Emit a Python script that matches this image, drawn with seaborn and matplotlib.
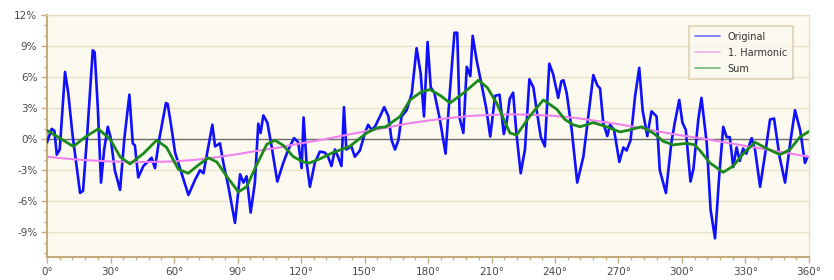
import numpy as np
import pandas as pd
import matplotlib
matplotlib.use("Agg")
import matplotlib.pyplot as plt
import seaborn as sns
from matplotlib.ticker import MultipleLocator, FuncFormatter

# Original signal (degrees, percent)
orig_deg = [0, 2.2, 3.5, 4.6, 6, 8.5, 10, 12, 15.6, 17, 19, 21.6, 22.5, 24, 25.5, 27, 28.7, 30, 32, 34.5,
            36.5, 38.9, 40.5, 41.5, 43.1, 45.5, 47, 49.4, 51, 53, 56.2, 57, 58.5, 60.5, 63.6, 66.8, 70, 72.3,
            73.9, 76.2, 78.1, 79.4, 81.7, 83.3, 85.7, 88.8, 91.2, 92.8, 94.3, 96.2, 98.2, 99.8, 100.9, 102.2,
            104.1, 106.1, 108.8, 111.6, 114, 116.7, 118.7, 120.3, 121.2, 122.6, 124.2, 126.5, 128.9, 131.3,
            132.8, 134.4, 136, 137.5, 139.1, 140.3, 141.4, 143.8, 145.4, 147.8, 150.2, 151.7, 153.3, 154.9,
            157.3, 159.3, 161.3, 162.8, 164.4, 166, 167.5, 169.9, 172.3, 174.6, 176.5, 178.1, 179.8, 181.3,
            183, 185.6, 188.3, 190.4, 192.5, 193.8, 195, 196.7, 198.3, 200, 201.1, 203, 205.3, 207.5, 209.4,
            211.7, 213.8, 215.8, 217.2, 218.6, 220.2, 221.8, 223.8, 225.8, 227.9, 229.8, 231.5, 233.3, 235.2,
            237.3, 239.1, 241.5, 243, 244, 245.5, 247.9, 250.5, 253.4, 255.7, 258.1, 260, 261.3, 262.8, 264.7,
            266, 267.9, 270.4, 272.3, 273.8, 275.7, 277.8, 279.8, 281.4, 283.6, 285.6, 288, 289.5, 292.4, 295,
            296.6, 298.7, 300.2, 301.8, 304, 305.4, 307.7, 309.2, 311.7, 313.5, 315.6, 317.6, 319.5, 321.1,
            322.6, 324.2, 325.8, 327.3, 328.9, 330.4, 332.9, 334.5, 336.9, 339.3, 341.6, 343.5, 346.1, 348.7,
            351.1, 353.4, 355.8, 358.1, 359.3]
orig_val = [-0.3, 1.0, 0.8, -1.5, -1.0, 6.5, 4.5, 0.5, -5.2, -5.0, 0.5, 8.6, 8.4, 3.0, -4.2, -1.0, 1.2, 0.2, -3.0, -4.9,
            0.0, 4.3, -0.4, -0.6, -3.7, -2.6, -2.3, -1.8, -2.8, 0.0, 3.5, 3.4, 1.5, -1.3, -3.3, -5.4, -3.9, -3.0,
            -3.3, -0.7, 1.4, -0.7, -0.4, -2.3, -4.6, -8.1, -3.4, -4.2, -3.6, -7.1, -4.2, 1.5, 0.6, 2.3,
            1.6, -0.7, -4.1, -2.3, -1.0, 0.1, -0.3, -2.8, 2.1, -2.2, -4.6, -2.3, -1.2, -1.3,
            -1.7, -2.6, -1.0, -1.7, -2.6, 3.1, -1.0, -0.7, -1.7, -1.1, 0.6, 1.4, 0.9, 1.2,
            2.2, 3.1, 2.2, -0.1, -1.0, -0.1, 2.2, 2.8, 4.4, 8.8, 6.4, 2.2, 9.4, 5.0,
            4.5, 1.9, -1.4, 4.8, 10.3, 10.3, 2.0, 0.6, 7.0, 6.1, 10.0, 7.6, 5.3, 3.0, 0.25,
            4.2, 4.3, 0.5, 1.7, 3.9, 4.5, 0.5, -3.3, -1.0, 5.8, 5.0, 2.6, 0.2, -0.7,
            7.3, 6.3, 4.0, 5.6, 5.7, 4.5, 0.9, -4.2, -1.7, 2.2, 6.2, 5.2, 4.9, 1.6, 0.3,
            1.4, 0.9, -2.2, -0.8, -1.1, -0.1, 4.1, 6.9, 2.8, 0.3, 2.7, 2.2, -3.0, -5.2, -0.3,
            1.6, 3.8, 1.6, 0.9, -4.1, -2.9, 1.9, 4.0, -0.4, -6.8, -9.6, -3.5, 1.2, 0.2,
            0.2, -2.7, -0.8, -2.1, -0.9, -1.4, 0.1, -1.0, -4.6, -1.4, 1.9, 2.0, -1.7, -4.2,
            -0.4, 2.8, 0.9, -2.3, -1.7]

# 1. Harmonic
harm_deg = list(range(0, 361, 10))
harm_val = [-1.7, -1.9, -2.05, -2.15, -2.2, -2.2, -2.15, -2.0, -1.75, -1.45, -1.1, -0.8, -0.4, -0.05,
            0.35, 0.75, 1.1, 1.5, 1.8, 2.05, 2.25, 2.35, 2.4, 2.35, 2.25, 2.05, 1.75, 1.45, 1.1, 0.7,
            0.35, 0.05, -0.3, -0.65, -1.0, -1.35, -1.7]

# Sum
sum_deg = [0, 6.1, 12.4, 18.7, 24.2, 29.8, 34.5, 39.2, 45.5, 51.8, 56.5, 62, 66.7, 71.5, 76.2, 80.2,
           84.9, 90.4, 94.3, 99, 103.8, 107.7, 111.6, 116.4, 121.1, 124, 129, 135, 143, 151, 156, 160,
           166.8, 171.5, 177, 181, 186, 190.4, 197, 203.8, 208, 212.4, 218.7, 221.9, 228, 234.5, 240.8,
           244.7, 248.6, 251.8, 258.1, 264.4, 270.7, 275.4, 280.9, 286.4, 291.1, 295.9, 302.2, 306,
           308.5, 313.2, 319.5, 324.2, 328.9, 334.5, 340, 346.3, 351, 355.7, 360]
sum_val = [0.85, 0.1, -0.7, 0.3, 1.0, 0.0, -1.7, -2.4, -1.4, -0.1, -0.8, -2.9, -3.3, -2.5, -1.8, -2.2,
           -3.6, -5.1, -4.6, -2.5, -0.5, -0.1, -0.6, -1.7, -2.2, -2.3, -1.9, -1.3, -0.7, 0.6, 1.1, 1.2,
           2.2, 3.8, 4.6, 4.8, 4.2, 3.5, 4.5, 5.7, 5.0, 3.5, 0.6, 0.4, 2.2, 3.8, 2.9,
           1.9, 1.4, 1.2, 1.6, 1.2, 0.7, 0.9, 1.2, 0.6, -0.2, -0.55, -0.4, -0.55,
           -1.1, -2.3, -3.2, -2.6, -1.4, -0.3, -0.9, -1.5, -1.0, 0.2, 0.75]

df_orig = pd.DataFrame({"deg": orig_deg, "val": orig_val})
df_harm = pd.DataFrame({"deg": harm_deg, "val": harm_val})
df_sum = pd.DataFrame({"deg": sum_deg, "val": sum_val})

sns.set_theme(style="white")
plt.rcParams["font.family"] = ["DejaVu Sans"]
plt.rcParams["axes.unicode_minus"] = False

tan = "#c4ad7c"
fig = plt.figure(figsize=(8.34, 2.8), dpi=100)
ax = fig.add_axes([0.0564, 0.082, 0.9136, 0.864])
ax.set_facecolor("#fcf9ef")

# horizontal grid every 3 %
for y in range(-9, 13, 3):
    if y != 0:
        ax.axhline(y, color="#ece2c8", lw=1.0, zorder=0)
ax.axhline(0, color="#6e6e6e", lw=1.0, zorder=1)

sns.lineplot(data=df_orig, x="deg", y="val", ax=ax, color="#1010ff", lw=1.9,
             label="Original", sort=False, zorder=3)
sns.lineplot(data=df_harm, x="deg", y="val", ax=ax, color="#ee82ee", lw=1.5,
             label="1. Harmonic", sort=False, zorder=4)
sns.lineplot(data=df_sum, x="deg", y="val", ax=ax, color="#1a8a1a", lw=2.0,
             label="Sum", sort=False, zorder=5)

ax.set_xlim(0, 360)
ax.set_ylim(-11.4, 12)
ax.xaxis.set_major_locator(MultipleLocator(30))
ax.xaxis.set_minor_locator(MultipleLocator(6))
ax.yaxis.set_major_locator(MultipleLocator(3))
ax.yaxis.set_minor_locator(MultipleLocator(1))
ax.xaxis.set_major_formatter(FuncFormatter(lambda v, p: f"{v:.0f}°"))
ax.yaxis.set_major_formatter(FuncFormatter(lambda v, p: f"{v:.0f}%"))
ax.set_xlabel("")
ax.set_ylabel("")

ax.tick_params(which="both", direction="out", colors=tan, labelcolor="#4a4a4a", labelsize=7.5)
ax.tick_params(which="major", length=4, width=1, pad=3)
ax.tick_params(which="minor", length=2, width=1)
ax.tick_params(axis="x", which="both", bottom=True)
ax.tick_params(axis="y", which="both", left=True)

for side in ["left", "bottom"]:
    ax.spines[side].set_color(tan)
    ax.spines[side].set_linewidth(1.5)
for side in ["top", "right"]:
    ax.spines[side].set_color("#eadfc4")
    ax.spines[side].set_linewidth(1.0)

leg = ax.legend(loc="upper right", bbox_to_anchor=(0.985, 0.975), fontsize=7, frameon=True,
                fancybox=False, handlelength=2.6, borderpad=0.6, labelspacing=0.6)
leg.get_frame().set_edgecolor("#d8c9a2")
leg.get_frame().set_facecolor("#fbf8ef")
leg.get_frame().set_linewidth(1.2)
for t in leg.get_texts():
    t.set_color("#333333")
for line in leg.get_lines():
    line.set_linewidth(1.2)
    line.set_alpha(0.6)

fig.savefig("out.png", dpi=100)
